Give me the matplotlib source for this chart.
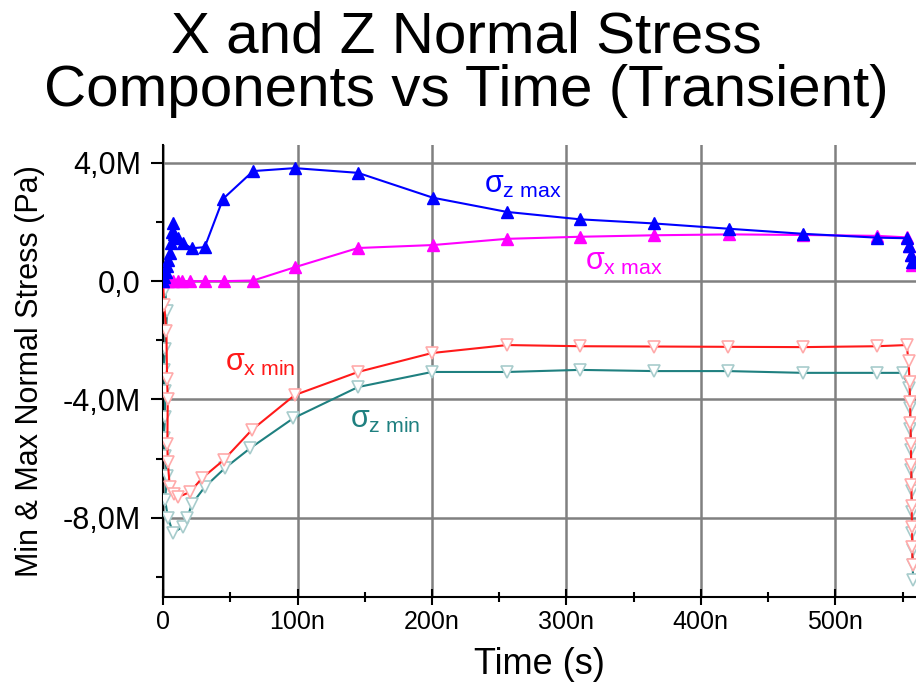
import numpy as np
import matplotlib.pyplot as plt
from matplotlib.ticker import MultipleLocator, FixedLocator, FixedFormatter

plt.rcParams['font.family'] = ['Liberation Sans', 'DejaVu Sans']
plt.rcParams['mathtext.fontset'] = 'custom'
plt.rcParams['mathtext.rm'] = 'Liberation Sans'
plt.rcParams['mathtext.it'] = 'Liberation Sans'

# time in ns, stress in MPa
t_zmax = [0, 1, 2, 3, 4, 5, 6, 7, 7.5, 8, 9, 11, 15, 21.5, 31, 44.6, 67, 98, 145,
          200.7, 255.7, 310, 365, 421, 476, 531, 553, 555, 556, 557]
s_zmax = [0, 0.15, 0.3, 0.5, 0.7, 0.95, 1.3, 1.66, 1.96, 1.6, 1.49, 1.45, 1.28, 1.11, 1.15,
          2.78, 3.72, 3.82, 3.66, 2.82, 2.34, 2.09, 1.95, 1.77, 1.60, 1.47, 1.45, 1.2, 0.9, 0.65]

t_xmax = [0, 2, 4, 7.4, 11, 14, 20, 31, 45, 67, 98, 145, 200.7, 255.7, 310, 365,
          421, 476, 531, 553, 555, 556, 557]
s_xmax = [0, 0, 0, 0, 0, 0, 0, 0, 0, 0.02, 0.47, 1.12, 1.22, 1.43, 1.50, 1.55,
          1.58, 1.56, 1.53, 1.48, 1.2, 0.9, 0.55]

t_xmin = [0, 0.8, 2.5, 3.0, 3.5, 3.2, 3.5, 5.0, 8, 11, 20, 29, 45, 66, 98, 145, 200,
          256, 310, 365, 420, 476, 531, 553, 554.5, 555.2, 555.6, 555.9, 556.2, 556.4,
          556.6, 556.8, 557.0, 557.2, 557.4]
s_xmin = [0, -0.8, -1.7, -3.3, -4.0, -5.5, -6.1, -6.95, -7.2, -7.3, -7.13, -6.66, -6.05,
          -5.03, -3.85, -3.07, -2.43, -2.16, -2.2, -2.21, -2.22, -2.23, -2.2, -2.16,
          -2.7, -3.4, -4.1, -4.8, -5.5, -6.2, -6.9, -7.6, -8.3, -9.0, -9.6]

t_zmin = [0, 1.5, 3.0, 1.5, 0.5, 1.5, 1.5, 0.5, 1.5, 3.0, 1.5, 3.7, 7.4, 15, 18,
          21.5, 31, 46, 65, 97, 145, 200, 256, 310, 365, 420, 476, 531, 550, 555,
          555.5, 555.9, 556.2, 556.5, 556.8, 557.0, 557.2, 557.4, 557.6, 557.8]
s_zmin = [0, -0.3, -1.0, -2.3, -3.0, -3.7, -4.6, -5.3, -5.9, -6.6, -7.4, -8.0, -8.5,
          -8.3, -8.0, -7.53, -6.96, -6.32, -5.64, -4.63, -3.58, -3.07, -3.07, -3.0,
          -3.04, -3.04, -3.1, -3.1, -3.1, -3.6, -4.3, -5.0, -5.7, -6.4, -7.1, -7.8,
          -8.5, -9.1, -9.6, -10.1]

x_ticks = [0, 100, 200, 300, 400, 500]
x_labels = ['0', '100n', '200n', '300n', '400n', '500n']
y_ticks = [4, 0, -4, -8]
y_labels = ['4,0M', '0,0', '-4,0M', '-8,0M']

fig = plt.figure(figsize=(9.16, 6.86), dpi=100)
ax = fig.add_axes([0.178, 0.13, 0.822, 0.659])

ax.plot(t_zmin, s_zmin, color='#1f8080', lw=1.5, marker='v', ms=9,
        mfc='white', mec='#a8cccc', mew=1.2, zorder=3)
ax.plot(t_xmin, s_xmin, color='#ff1a1a', lw=1.5, marker='v', ms=9,
        mfc='white', mec='#ffaaaa', mew=1.2, zorder=3)
ax.plot(t_xmax, s_xmax, color='#ff00ff', lw=1.5, marker='^', ms=9,
        mfc='#ff00ff', mec='#ff00ff', zorder=4)
ax.plot(t_zmax, s_zmax, color='#0000ff', lw=1.5, marker='^', ms=9,
        mfc='#0000ff', mec='#0000ff', zorder=5)

ax.text(239, 2.97, r'$\sigma_{\mathrm{z\ max}}$', color='#0000ff', fontsize=22)
ax.text(314, 0.37, r'$\sigma_{\mathrm{x\ max}}$', color='#ff00ff', fontsize=22)
ax.text(46, -3.04, r'$\sigma_{\mathrm{x\ min}}$', color='#ff1a1a', fontsize=22)
ax.text(139, -4.97, r'$\sigma_{\mathrm{z\ min}}$', color='#1f8080', fontsize=22)

ax.set_xlim(0, 560)
ax.set_ylim(-10.67, 4.61)
ax.xaxis.set_major_locator(FixedLocator(x_ticks))
ax.xaxis.set_major_formatter(FixedFormatter(x_labels))
ax.xaxis.set_minor_locator(MultipleLocator(50))
ax.yaxis.set_major_locator(FixedLocator(y_ticks))
ax.yaxis.set_major_formatter(FixedFormatter(y_labels))
ax.yaxis.set_minor_locator(MultipleLocator(2))

ax.grid(True, which='major', color='#808080', lw=1.8)
ax.set_axisbelow(True)
for s in ['top', 'right']:
    ax.spines[s].set_visible(False)
for s in ['left', 'bottom']:
    ax.spines[s].set_linewidth(1.5)

ax.tick_params(axis='x', which='major', direction='inout', length=11, width=1.5,
               labelsize=18, pad=4)
ax.tick_params(axis='x', which='minor', direction='inout', length=7, width=1.5)
ax.tick_params(axis='y', which='major', direction='out', length=9, width=1.5,
               labelsize=22, pad=7)
ax.tick_params(axis='y', which='minor', direction='out', length=5, width=1.5)

ax.set_xlabel('Time (s)', fontsize=26, labelpad=9)
ax.set_ylabel('Min & Max Normal Stress (Pa)', fontsize=22, labelpad=13)

fig.text(0.509, 0.985, 'X and Z Normal Stress\nComponents vs Time (Transient)',
         ha='center', va='top', fontsize=42, linespacing=1.0)

fig.savefig('out.png', dpi=100)
